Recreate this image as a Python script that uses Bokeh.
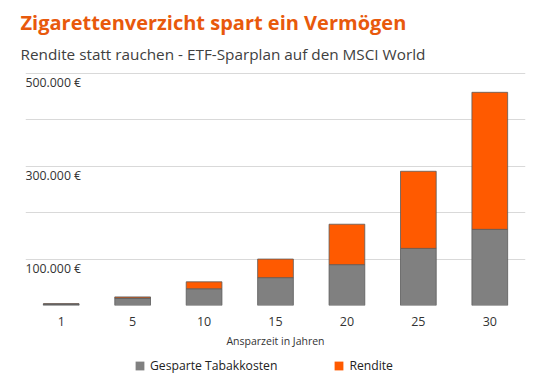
from bokeh.plotting import figure
from bokeh.layouts import column
from bokeh.core.properties import value
from bokeh.models import ColumnDataSource, Legend, LegendItem, LabelSet, Title, FixedTicker, Range1d
from bokeh.embed import file_html
from bokeh.resources import INLINE

years = ["1", "5", "10", "15", "20", "25", "30"]
tabak = [3200, 16000, 36000, 60000, 88000, 123000, 164000]
rendite = [400, 2500, 15000, 40000, 87000, 166000, 295000]
grid_ticks = [0, 100000, 200000, 300000, 400000, 500000]
label_ticks = [100000, 300000, 500000]
label_texts = ["100.000 €", "300.000 €", "500.000 €"]
series = ["tabak", "rendite"]
series_labels = ["Gesparte Tabakkosten", "Rendite"]
colors = ["#808080", "#FF5A00"]

FONT = "Open Sans"

src = ColumnDataSource(dict(years=years, tabak=tabak, rendite=rendite))

p = figure(x_range=years, y_range=Range1d(0, 506000), width=540, height=350,
           output_backend="svg", toolbar_location=None,
           min_border_left=25, min_border_right=15, min_border_top=70, min_border_bottom=42)
p.outline_line_color = None
p.background_fill_color = "white"

rs = p.vbar_stack(series, x="years", width=0.5, source=src,
                  fill_color=colors, line_color="#5a5a5a", line_width=0.8)

p.yaxis.visible = False
p.ygrid.ticker = FixedTicker(ticks=grid_ticks)
p.ygrid.grid_line_color = "#d9d9d9"
p.xgrid.grid_line_color = None

ax = p.xaxis[0]
ax.axis_line_color = None
ax.major_tick_line_color = None
ax.minor_tick_line_color = None
ax.major_tick_out = 0
ax.major_label_text_font = FONT
ax.major_label_text_font_size = "12.5px"
ax.major_label_text_color = "#333333"
ax.major_label_standoff = 11
ax.axis_label = "Ansparzeit in Jahren"
ax.axis_label_text_font = FONT
ax.axis_label_text_font_size = "10.5px"
ax.axis_label_text_font_style = "normal"
ax.axis_label_text_color = "#333333"
ax.axis_label_standoff = 5

lsrc = ColumnDataSource(dict(y=label_ticks, text=label_texts, x=[0] * len(label_ticks)))
p.add_layout(LabelSet(x="x", y="y", text="text", source=lsrc, x_units="screen",
                      text_font=value(FONT), text_font_size="12.3px", text_color="#333333",
                      text_baseline="top", text_align="left", y_offset=-1))

p.title = None
p.add_layout(Title(text="Rendite statt rauchen - ETF-Sparplan auf den MSCI World",
                   text_font=FONT, text_font_size="15.3px", text_font_style="normal",
                   text_color="#404040", align="left", offset=-5, standoff=14), "above")
p.add_layout(Title(text="Zigarettenverzicht spart ein Vermögen",
                   text_font=FONT, text_font_size="20px", text_font_style="bold",
                   text_color="#E8590C", align="left", offset=-5, standoff=-2), "above")

# legend strip
lg = figure(x_range=years, y_range=Range1d(0, 1), width=540, height=24,
            output_backend="svg", toolbar_location=None,
            x_axis_location=None, y_axis_location=None,
            min_border_left=0, min_border_right=0, min_border_top=0, min_border_bottom=0)
lg.outline_line_color = None
lg.grid.visible = False
lrs = lg.vbar_stack(series, x="years", width=0.5, source=src,
                    fill_color=colors, line_color=None)
for r in lrs:
    r.visible = False
legend = Legend(items=[LegendItem(label=lab, renderers=[r]) for lab, r in zip(series_labels, lrs)],
                orientation="horizontal", location=(109, 0), border_line_color=None,
                background_fill_alpha=0,
                spacing=56, glyph_width=11, glyph_height=11,
                label_text_font=FONT, label_text_font_size="12.2px", label_text_color="#222222",
                padding=2, margin=0)
lg.add_layout(legend, "center")

layout = column(p, lg, spacing=0)
open("out.html", "w").write(file_html(layout, INLINE))
